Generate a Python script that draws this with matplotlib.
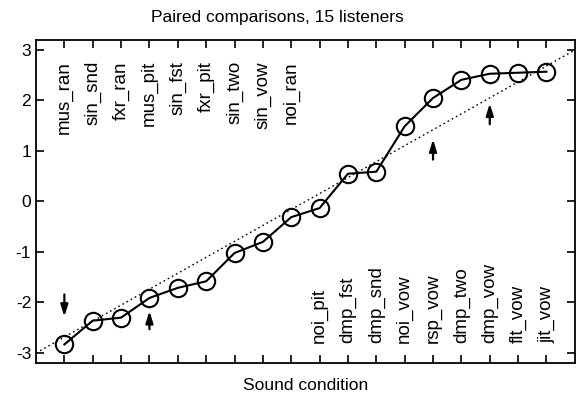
import numpy as np
import matplotlib
matplotlib.use("Agg")
import matplotlib.pyplot as plt

plt.rcParams['font.family'] = ['Liberation Sans', 'DejaVu Sans']
plt.rcParams['axes.unicode_minus'] = False

# Sound conditions, ordered by scale value
conditions = ['mus_ran', 'sin_snd', 'fxr_ran', 'mus_pit', 'sin_fst', 'fxr_pit',
              'sin_two', 'sin_vow', 'noi_ran', 'noi_pit', 'dmp_fst', 'dmp_snd',
              'noi_vow', 'rsp_vow', 'dmp_two', 'dmp_vow', 'flt_vow', 'jit_vow']
scale_values = [-2.83, -2.36, -2.30, -1.91, -1.71, -1.58, -1.02, -0.80, -0.31,
                -0.13, 0.55, 0.59, 1.49, 2.05, 2.41, 2.53, 2.55, 2.57]

# dotted reference diagonal
diag_x = [0, 19]
diag_y = [-3, 3]

# arrows: (condition index, tail y, head y)
arrow_pos = [1, 4, 14, 16]
arrow_tail = [-1.84, -2.53, 0.83, 1.53]
arrow_head = [-2.28, -2.17, 1.23, 1.94]

x = np.arange(1, len(conditions) + 1)

fig, ax = plt.subplots(figsize=(5.76, 3.99), dpi=100)
fig.subplots_adjust(left=0.0625, right=0.998, top=0.90, bottom=0.09)

ax.plot(diag_x, diag_y, linestyle=(0, (1.2, 2.2)), color='black', linewidth=1.0)
ax.plot(x, scale_values, color='black', linewidth=1.5, marker='o',
        markersize=12.5, markerfacecolor='none', markeredgecolor='black',
        markeredgewidth=1.5)

for xp, yt, yh in zip(arrow_pos, arrow_tail, arrow_head):
    ax.annotate('', xy=(xp, yh), xytext=(xp, yt),
                arrowprops=dict(arrowstyle='-|>,head_length=0.7,head_width=0.22',
                                color='black', lw=1.6, shrinkA=0, shrinkB=0))

# condition labels: first half at top, second half at bottom
for xi, name, v in zip(x, conditions, scale_values):
    if v < -0.2:
        ax.text(xi, 2.78, name, rotation=90, ha='center', va='top', fontsize=13.5)
    else:
        ax.text(xi, -2.8, name, rotation=90, ha='center', va='bottom', fontsize=13.5)

ax.set_xlim(0, 19)
ax.set_ylim(-3.2, 3.2)
ax.set_xticks(x)
ax.set_xticklabels([])
ax.set_yticks([-3, -2, -1, 0, 1, 2, 3])
ax.tick_params(direction='in', length=6, width=1.2, top=True, right=True,
               labelsize=12.5)
for s in ax.spines.values():
    s.set_linewidth(1.3)

fig.text(0.482, 0.955, 'Paired comparisons, 15 listeners', fontsize=12.5,
         ha='center', va='center')
ax.set_xlabel('Sound condition', fontsize=12.5, labelpad=7)

fig.savefig('out.png', dpi=100)
